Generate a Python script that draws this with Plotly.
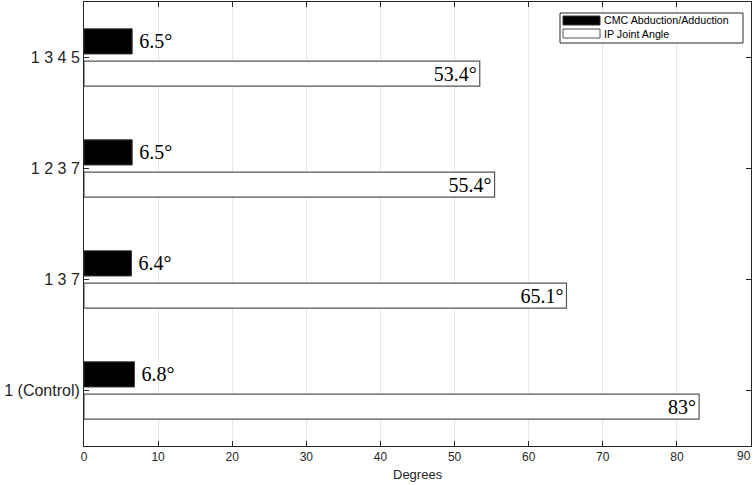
import plotly.graph_objects as go

categories = ["1 (Control)", "1 3 7", "1 2 3 7", "1 3 4 5"]
cmc_values = [6.8, 6.4, 6.5, 6.5]
ip_values = [83, 65.1, 55.4, 53.4]
series_names = ["CMC Abduction/Adduction", "IP Joint Angle"]
x_ticks = [0, 10, 20, 30, 40, 50, 60, 70, 80, 90]
x_title = "Degrees"

W, H = 754, 485
L, R, T, B = 84, 3, 2, 39
PW, PH = W - L - R, H - T - B

def fmt(v):
    return f"{v:g}°"

def px(xp):  # pixel x -> paper x
    return (xp - L) / PW

def py(yp):  # pixel y -> paper y
    return (H - B - yp) / PH

fig = go.Figure()
# IP first so it sits below CMC in each group (horizontal grouping goes bottom-up)
fig.add_trace(go.Bar(
    y=categories, x=ip_values, orientation="h", name=series_names[1],
    marker=dict(color="white", line=dict(color="#555555", width=1.2)),
    text=[fmt(v) for v in ip_values], textposition="inside", insidetextanchor="end",
    textfont=dict(family="Liberation Serif", size=20, color="black"),
    showlegend=False, hoverinfo="x+y",
))
fig.add_trace(go.Bar(
    y=categories, x=cmc_values, orientation="h", name=series_names[0],
    marker=dict(color="black", line=dict(color="#333333", width=1)),
    text=["\u2009" + fmt(v) for v in cmc_values], textposition="outside",
    textfont=dict(family="Liberation Serif", size=20, color="black"),
    cliponaxis=False,
    showlegend=False, hoverinfo="x+y",
))

# legend box drawn to match the reference style
shapes = [
    dict(type="rect", xref="paper", yref="paper", x0=px(560), x1=px(743), y0=py(43), y1=py(13),
         line=dict(color="#262626", width=1), fillcolor="white", layer="above"),
    dict(type="rect", xref="paper", yref="paper", x0=px(563), x1=px(600), y0=py(25), y1=py(16),
         line=dict(color="#333333", width=1), fillcolor="black", layer="above"),
    dict(type="rect", xref="paper", yref="paper", x0=px(563), x1=px(600), y0=py(38), y1=py(29),
         line=dict(color="#555555", width=1), fillcolor="white", layer="above"),
]
annotations = [
    dict(text=series_names[0], xref="paper", yref="paper", x=px(602), y=py(20.5),
         xanchor="left", yanchor="middle", showarrow=False,
         font=dict(size=10.7, color="black", family="Liberation Sans, Arial")),
    dict(text=series_names[1], xref="paper", yref="paper", x=px(602), y=py(33.5),
         xanchor="left", yanchor="middle", showarrow=False,
         font=dict(size=10.7, color="black", family="Liberation Sans, Arial")),
    dict(text=x_title, xref="paper", yref="paper", x=0.5, y=0, yshift=-28,
         xanchor="center", yanchor="middle", showarrow=False,
         font=dict(size=13, color="#262626", family="Liberation Sans, Arial")),
    # last x tick label, nudged left so it stays inside the page (as in the reference)
    dict(text=str(x_ticks[-1]), xref="x", yref="paper", x=x_ticks[-1], y=0,
         xanchor="right", yanchor="top", yshift=-1, xshift=2, showarrow=False,
         font=dict(size=12, color="#262626", family="Liberation Sans, Arial")),
]

fig.update_layout(
    width=W, height=H,
    margin=dict(l=L, r=R, t=T, b=B, autoexpand=False),
    paper_bgcolor="white", plot_bgcolor="white",
    barmode="group", bargap=0.42, bargroupgap=0.22,
    font=dict(family="Liberation Sans, Arial", size=12, color="#262626"),
    showlegend=False,
    shapes=shapes, annotations=annotations,
    uniformtext=dict(minsize=20, mode="show"),
)
fig.update_xaxes(
    range=[0, 90], tickvals=x_ticks,
    ticktext=[str(t) for t in x_ticks[:-1]] + [""],
    showgrid=True, gridcolor="#e6e6e6", gridwidth=1,
    showline=True, linecolor="#262626", linewidth=1, mirror="ticks",
    ticks="inside", ticklen=5, tickcolor="#262626",
    tickfont=dict(size=12, color="#262626"),
    zeroline=False, automargin=False,
)
fig.update_yaxes(
    type="category", categoryorder="array", categoryarray=categories,
    range=[-0.5, 3.5],
    showgrid=False,
    showline=True, linecolor="#262626", linewidth=1, mirror="ticks",
    ticks="inside", ticklen=5, tickcolor="#262626",
    tickfont=dict(size=16, color="#262626"),
    zeroline=False, automargin=False,
)

fig.write_html(
    "out.html",
    config={"displayModeBar": False},
    post_script="document.body.style.margin='0';document.body.style.padding='0';"
                "document.body.style.overflow='hidden';",
)
